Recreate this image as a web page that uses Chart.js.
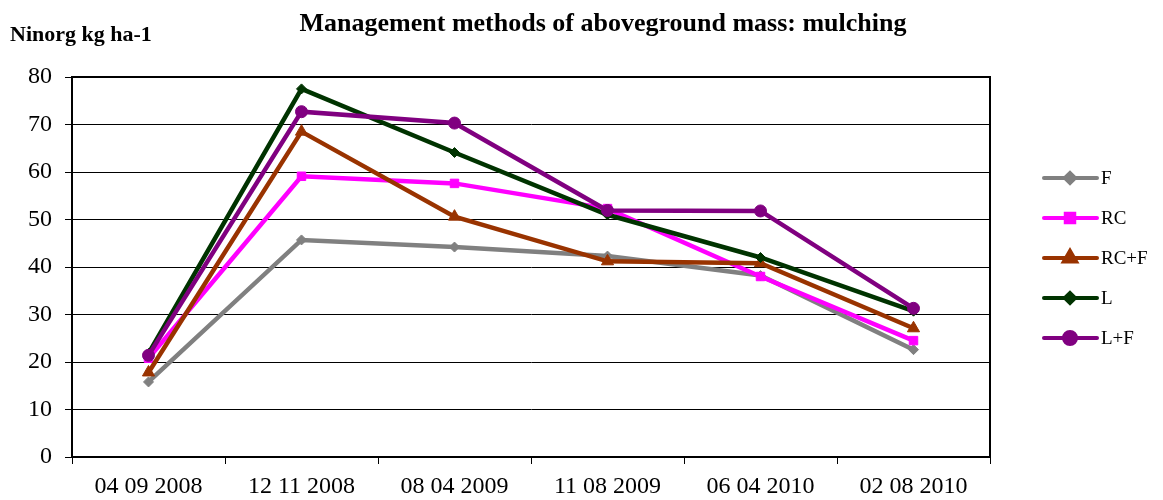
<!DOCTYPE html>
<html>
<head>
<meta charset="utf-8">
<script src="https://cdn.jsdelivr.net/npm/chart.js@4.4.0/dist/chart.umd.min.js"></script>
<style>
  html, body { margin: 0; padding: 0; background: #fff; }
  #wrap { width: 1163px; height: 500px; }
</style>
</head>
<body>
<div id="wrap"><canvas id="chart" width="1163" height="500"></canvas></div>
<script>
const dates = ['04 09 2008', '12 11 2008', '08 04 2009', '11 08 2009', '06 04 2010', '02 08 2010'];
const seriesNames = ['F', 'RC', 'RC+F', 'L', 'L+F'];
const valF = [15.8, 45.7, 44.2, 42.3, 38.2, 22.6];
const valRC = [20.8, 59.1, 57.6, 52.3, 38.0, 24.5];
const valRCF = [17.8, 68.5, 50.6, 41.2, 40.8, 27.1];
const valL = [21.8, 77.5, 64.1, 51.0, 42.0, 30.7];
const valLF = [21.4, 72.7, 70.3, 51.9, 51.8, 31.3];
const yTicks = [0, 10, 20, 30, 40, 50, 60, 70, 80];

const colors = ['#808080', '#ff00ff', '#993300', '#003300', '#800080'];
const markers = ['rectRot', 'rect', 'triangle', 'rectRot', 'circle'];
const markerSize = [5, 6, 7, 5, 6];
const allValues = [valF, valRC, valRCF, valL, valLF];

const serif = '"Liberation Serif", "Times New Roman", serif';

// cadre du graphique + titres + légende dessinés à la main
const extras = {
  id: 'extras',
  beforeDatasetsDraw(chart) {
    const { ctx, chartArea: a } = chart;
    ctx.save();
    ctx.strokeStyle = '#000';
    ctx.lineWidth = 2;
    ctx.strokeRect(a.left, a.top, a.right - a.left, a.bottom - a.top);
    ctx.restore();
  },
  afterDraw(chart) {
    const ctx = chart.ctx;
    ctx.save();
    ctx.fillStyle = '#000';
    ctx.textBaseline = 'alphabetic';
    ctx.font = 'bold 26px ' + serif;
    ctx.textAlign = 'center';
    ctx.fillText('Management methods of aboveground mass: mulching', 603, 31);
    ctx.font = 'bold 22px ' + serif;
    ctx.textAlign = 'left';
    ctx.fillText('Ninorg kg ha-1', 10, 41);

    // légende
    const ys = [178, 218, 258, 298, 338];
    seriesNames.forEach((name, i) => {
      const y = ys[i];
      ctx.strokeStyle = colors[i];
      ctx.lineWidth = 4;
      ctx.lineCap = 'round';
      ctx.beginPath();
      ctx.moveTo(1044, y);
      ctx.lineTo(1097, y);
      ctx.stroke();
      Chart.helpers.drawPoint(ctx, {
        pointStyle: markers[i], radius: markerSize[i], borderWidth: 1, rotation: 0
      }, 1070, y);
      ctx.fillStyle = colors[i];
      ctx.fill();
      ctx.fillStyle = '#000';
      ctx.font = '19px ' + serif;
      ctx.textBaseline = 'middle';
      ctx.fillText(name, 1101, y + 1);
    });
    ctx.restore();
  }
};

const datasets = allValues.map((vals, i) => ({
  label: seriesNames[i],
  data: vals,
  borderColor: colors[i],
  backgroundColor: colors[i],
  borderWidth: 4.5,
  pointStyle: markers[i],
  pointRadius: markerSize[i],
  pointBorderWidth: 1,
  pointHoverRadius: markerSize[i],
  tension: 0,
  order: 5 - i
}));

new Chart(document.getElementById('chart').getContext('2d'), {
  type: 'line',
  data: { labels: dates, datasets: datasets },
  options: {
    responsive: false,
    animation: false,
    devicePixelRatio: 1,
    layout: { padding: { top: 77, right: 173, left: 0, bottom: 0 } },
    plugins: {
      legend: { display: false },
      title: { display: false },
      tooltip: { enabled: false }
    },
    scales: {
      x: {
        offset: true,
        grid: { offset: true, drawOnChartArea: false, color: '#000', tickLength: 7, lineWidth: 1 },
        border: { color: '#000', width: 2 },
        ticks: { color: '#000', font: { family: serif, size: 24 }, padding: 8, maxRotation: 0 },
        afterFit(scale) { scale.height = 43; }
      },
      y: {
        min: 0,
        max: 80,
        afterBuildTicks(scale) { scale.ticks = yTicks.map(v => ({ value: v })); },
        grid: { color: '#000', lineWidth: 1, tickLength: 7 },
        border: { color: '#000', width: 2 },
        ticks: { color: '#000', font: { family: serif, size: 24 }, padding: 13 },
        afterFit(scale) { scale.width = 72; }
      }
    }
  },
  plugins: [extras]
});
</script>
</body>
</html>
